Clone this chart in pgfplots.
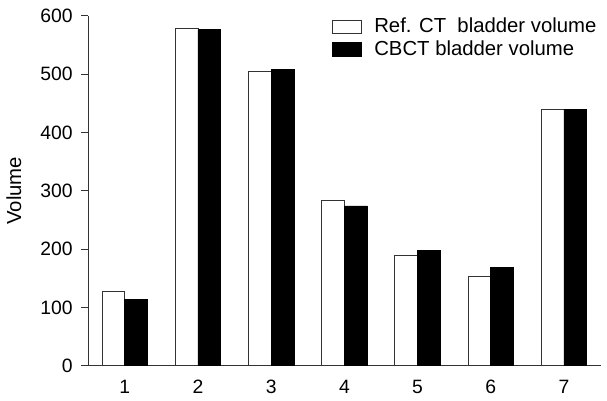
\documentclass[border=0pt]{standalone}
\usepackage{fontspec}
\setmainfont{Liberation Sans}
\usepackage{pgfplots}
\pgfplotsset{compat=1.18}
\begin{document}
\fontsize{19.5}{23}\selectfont
\begin{tikzpicture}
\begin{axis}[
  scale only axis,
  width=517pt, height=353pt,
  xmin=0.5, xmax=7.5, ymin=0, ymax=600,
  axis x line*=bottom, axis y line*=left,
  axis line style={line width=1pt, black!80},
  ybar=0pt, bar width=23pt,
  xtick={1,...,7},
  major x tick style={draw=none},
  extra x ticks={0.5,1.5,2.5,3.5,4.5,5.5,6.5,7.5},
  extra x tick labels={},
  extra x tick style={major tick length=7pt, tick style={line width=1pt, black!80, draw=black!80}},
  ytick={0,100,...,600},
  tick align=outside,
  major tick length=7pt,
  tick style={line width=1pt, black!80},
  y tick label style={xshift=-2pt},
  x tick label style={yshift=-1pt},
  /pgf/number format/assume math mode=true,
  ticklabel style={font=\fontsize{19.5}{23}\selectfont},
  ylabel={Volume},
  ylabel style={font=\fontsize{20.5}{24}\selectfont, yshift=6pt},
  clip=false,
  legend style={at={(1,1)}, anchor=north east, draw=none, fill=none,
    font=\fontsize{20.5}{24}\selectfont, row sep=1pt, inner sep=0pt, xshift=-2pt, yshift=0pt},
  legend cell align=left,
  legend image code/.code={\draw[#1, line width=0.8pt] (0pt,-7pt) rectangle (29pt,7pt); \path (40pt,0pt);},
]
\addplot[draw=black!80, fill=white, line width=0.8pt] coordinates {(1,127) (2,578) (3,504) (4,284) (5,189) (6,153) (7,440)};
\addplot[draw=black, fill=black, line width=0.8pt] coordinates {(1,114) (2,576) (3,508) (4,274) (5,198) (6,168) (7,440)};
\legend{Ref. CT\ \ bladder volume, CBCT bladder volume}
\coordinate (O) at (rel axis cs:0,0);
\end{axis}
\path[use as bounding box] ([shift={(-88pt,-34pt)}]O) rectangle ([shift={(519pt,369pt)}]O);
\end{tikzpicture}
\end{document}
